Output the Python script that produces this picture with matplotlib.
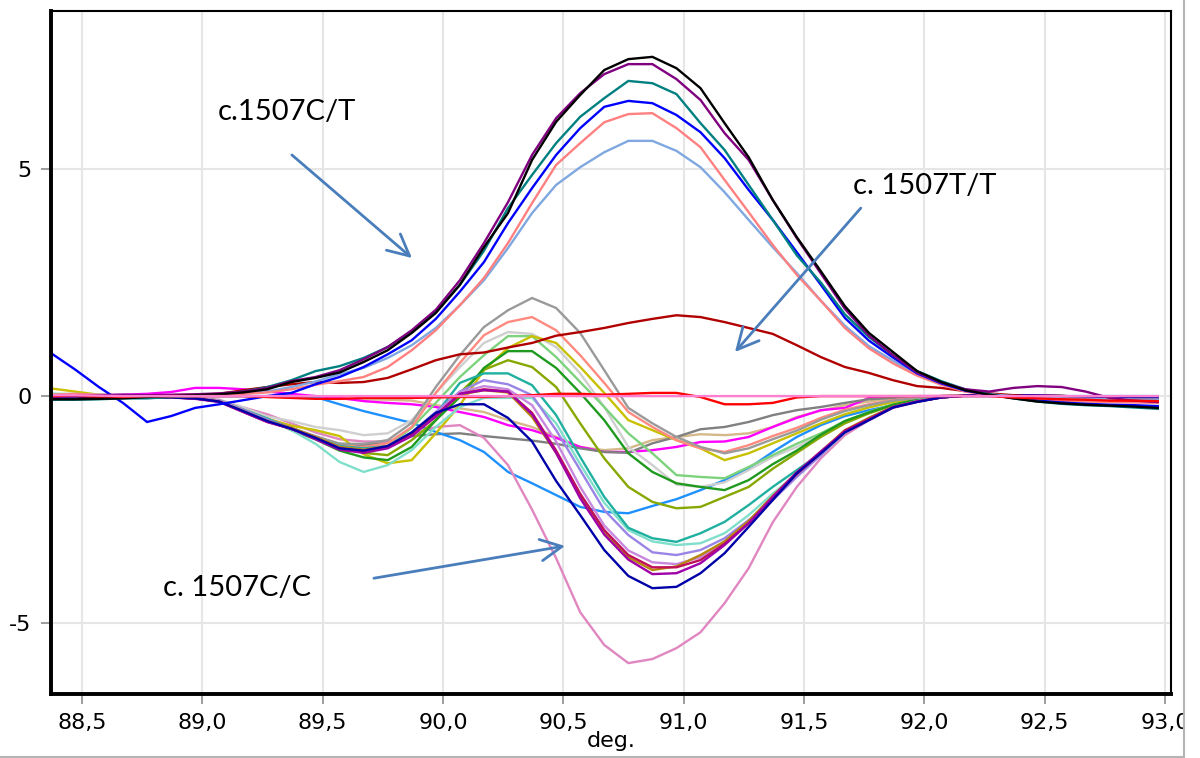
import numpy as np
import matplotlib
matplotlib.use("Agg")
import matplotlib.pyplot as plt
from matplotlib.lines import Line2D
from matplotlib.patches import Rectangle
from matplotlib.ticker import FixedLocator, FuncFormatter

# Temperature sampling (deg.), 0.1 deg steps
temps = np.round(88.37 + 0.1 * np.arange(47), 2)

# ---- c.1507C/T (heterozygous) difference curves ----
ct_black = [-0.07, -0.07, -0.06, -0.05, -0.02, 0.00, 0.02, 0.04, 0.08, 0.15,
            0.31, 0.40, 0.52, 0.75, 1.01, 1.39, 1.83, 2.45, 3.28, 4.03,
            5.20, 6.04, 6.63, 7.18, 7.42, 7.47, 7.22, 6.78, 6.01, 5.26,
            4.32, 3.50, 2.75, 1.98, 1.39, 0.97, 0.55, 0.31, 0.13, 0.03,
            -0.05, -0.12, -0.16, -0.19, -0.21, -0.23, -0.26]
ct_purple = [-0.02, 0.00, 0.02, 0.03, 0.02, 0.03, 0.04, 0.06, 0.10, 0.18,
             0.33, 0.42, 0.57, 0.81, 1.08, 1.45, 1.90, 2.55, 3.37, 4.27,
             5.31, 6.12, 6.67, 7.09, 7.31, 7.31, 6.98, 6.52, 5.79, 5.20,
             4.32, 3.48, 2.70, 1.92, 1.33, 0.90, 0.52, 0.30, 0.15, 0.10,
             0.18, 0.22, 0.20, 0.10, -0.04, -0.10, -0.13]
ct_teal = [-0.08, -0.08, -0.07, -0.05, -0.05, -0.02, 0.00, 0.04, 0.10, 0.20,
           0.35, 0.55, 0.66, 0.84, 1.08, 1.42, 1.85, 2.45, 3.20, 4.14,
           4.87, 5.57, 6.15, 6.56, 6.94, 6.89, 6.65, 6.01, 5.42, 4.65,
           3.88, 3.10, 2.50, 1.80, 1.30, 0.90, 0.55, 0.33, 0.15, 0.04,
           -0.05, -0.12, -0.17, -0.20, -0.22, -0.25, -0.28]
ct_blue = [0.95, 0.59, 0.20, -0.15, -0.57, -0.44, -0.26, -0.18, -0.09, 0.00,
           0.07, 0.26, 0.42, 0.64, 0.92, 1.23, 1.70, 2.30, 2.95, 3.81,
           4.58, 5.31, 5.90, 6.37, 6.50, 6.45, 6.19, 5.81, 5.24, 4.54,
           3.88, 3.17, 2.45, 1.72, 1.22, 0.85, 0.50, 0.28, 0.12, 0.03,
           -0.04, -0.10, -0.14, -0.17, -0.19, -0.20, -0.22]
ct_salmon = [0.03, 0.05, 0.03, 0.02, 0.00, -0.02, 0.00, 0.02, 0.05, 0.08,
             0.15, 0.25, 0.33, 0.42, 0.64, 1.01, 1.45, 2.00, 2.60, 3.37,
             4.25, 5.09, 5.57, 6.03, 6.21, 6.23, 5.90, 5.48, 4.76, 4.05,
             3.33, 2.67, 2.10, 1.50, 1.05, 0.72, 0.45, 0.25, 0.10, 0.02,
             -0.03, -0.07, -0.10, -0.12, -0.13, -0.14, -0.15]
ct_steel = [0.00, 0.00, 0.02, 0.00, -0.02, 0.00, 0.02, 0.03, 0.05, 0.10,
            0.20, 0.32, 0.48, 0.62, 0.84, 1.12, 1.50, 2.00, 2.55, 3.26,
            4.03, 4.65, 5.04, 5.37, 5.62, 5.62, 5.40, 5.04, 4.49, 3.88,
            3.28, 2.71, 2.10, 1.55, 1.10, 0.78, 0.47, 0.27, 0.12, 0.04,
            0.00, -0.03, -0.05, -0.06, -0.07, -0.08, -0.08]

# ---- c.1507T/T and reference curves ----
tt_darkred = [0.02, 0.00, -0.02, 0.00, 0.00, 0.02, 0.03, 0.05, 0.13, 0.20,
              0.26, 0.31, 0.29, 0.31, 0.40, 0.59, 0.79, 0.92, 0.96, 1.07,
              1.17, 1.33, 1.41, 1.50, 1.61, 1.70, 1.78, 1.74, 1.63, 1.50,
              1.37, 1.12, 0.86, 0.64, 0.51, 0.35, 0.22, 0.18, 0.11, 0.06,
              0.02, -0.02, -0.05, -0.07, -0.09, -0.10, -0.11]
tt_red = [0.00, 0.02, 0.00, -0.02, 0.00, 0.00, 0.00, 0.00, 0.00, -0.02,
          -0.04, -0.06, -0.06, -0.04, -0.04, -0.04, -0.03, -0.02, -0.02, 0.00,
          0.02, 0.05, 0.05, 0.03, 0.05, 0.07, 0.07, -0.02, -0.18, -0.18,
          -0.15, -0.03, 0.00, 0.00, 0.00, 0.00, 0.00, 0.00, 0.00, 0.00,
          -0.03, -0.05, -0.07, -0.08, -0.10, -0.10, -0.11]
ref_pink = [0.02, 0.02, 0.01, 0.00, 0.00, 0.00, 0.00, 0.00, 0.00, 0.00,
            0.00, 0.00, 0.00, 0.00, 0.00, 0.00, 0.00, 0.00, 0.00, 0.00,
            0.00, 0.00, 0.00, 0.00, 0.00, 0.00, 0.00, 0.00, 0.00, 0.00,
            0.00, 0.00, 0.00, 0.00, 0.00, 0.00, 0.00, 0.00, 0.00, 0.00,
            0.00, 0.00, 0.00, 0.00, 0.00, 0.00, 0.00]

# ---- c.1507C/C difference curves ----
cc_gray = [0.05, 0.03, 0.00, 0.00, -0.02, -0.03, -0.05, -0.10, -0.30, -0.50,
           -0.70, -0.88, -1.05, -1.05, -0.97, -0.59, 0.20, 0.90, 1.52, 1.89,
           2.16, 1.94, 1.39, 0.57, -0.26, -0.60, -0.90, -1.12, -1.26, -1.15,
           -0.95, -0.76, -0.52, -0.33, -0.20, -0.10, -0.04, 0.00, 0.01, 0.02,
           0.02, 0.01, 0.00, -0.01, -0.02, -0.03, -0.03]
cc_salmon = [0.03, 0.02, 0.02, 0.00, 0.00, -0.02, -0.04, -0.10, -0.30, -0.50,
             -0.70, -0.90, -1.10, -1.12, -1.04, -0.68, 0.07, 0.73, 1.34, 1.63,
             1.74, 1.45, 0.90, 0.29, -0.35, -0.68, -0.97, -1.15, -1.23, -1.08,
             -0.88, -0.70, -0.48, -0.30, -0.18, -0.09, -0.03, 0.00, 0.01, 0.02,
             0.02, 0.01, 0.00, -0.01, -0.02, -0.02, -0.03]
cc_silver = [0.04, 0.03, 0.02, 0.00, 0.00, -0.02, -0.04, -0.09, -0.25, -0.45,
             -0.55, -0.68, -0.75, -0.86, -0.82, -0.53, 0.07, 0.64, 1.17, 1.41,
             1.37, 1.08, 0.50, -0.24, -1.12, -1.52, -1.95, -2.00, -1.90, -1.63,
             -1.34, -1.12, -0.86, -0.58, -0.36, -0.19, -0.08, -0.02, 0.01, 0.02,
             0.02, 0.01, 0.00, -0.01, -0.02, -0.02, -0.03]
cc_lightgreen = [0.00, 0.00, 0.02, 0.02, 0.00, -0.02, -0.04, -0.10, -0.30, -0.50,
                 -0.70, -0.90, -1.10, -1.20, -1.10, -0.70, -0.15, 0.42, 0.90, 1.32,
                 1.32, 0.86, 0.31, -0.24, -0.82, -1.26, -1.74, -1.78, -1.81, -1.56,
                 -1.30, -1.05, -0.82, -0.55, -0.35, -0.18, -0.08, -0.02, 0.01, 0.02,
                 0.02, 0.01, 0.00, -0.01, -0.01, -0.02, -0.02]
cc_green = [0.02, 0.00, 0.00, 0.00, -0.02, -0.02, -0.04, -0.10, -0.30, -0.50,
            -0.75, -0.95, -1.20, -1.35, -1.41, -1.12, -0.53, -0.02, 0.62, 0.99,
            0.99, 0.62, 0.07, -0.53, -1.26, -1.67, -1.92, -2.00, -2.07, -1.85,
            -1.50, -1.20, -0.85, -0.55, -0.36, -0.19, -0.08, -0.02, 0.01, 0.02,
            0.02, 0.01, 0.00, -0.01, -0.01, -0.02, -0.02]
cc_olive = [0.00, 0.00, 0.00, 0.00, -0.02, -0.02, -0.04, -0.10, -0.30, -0.50,
            -0.72, -0.92, -1.12, -1.25, -1.30, -0.97, -0.53, 0.07, 0.58, 0.79,
            0.64, 0.20, -0.60, -1.37, -2.00, -2.33, -2.47, -2.44, -2.22, -2.00,
            -1.60, -1.25, -0.90, -0.60, -0.38, -0.20, -0.09, -0.02, 0.01, 0.02,
            0.02, 0.01, 0.00, -0.01, -0.01, -0.02, -0.02]
cc_seagreen = [-0.02, -0.02, 0.00, 0.00, -0.02, -0.02, -0.05, -0.10, -0.30, -0.50,
               -0.72, -0.92, -1.10, -1.15, -1.10, -0.85, -0.40, 0.29, 0.50, 0.50,
               0.24, -0.42, -1.34, -2.22, -2.90, -3.13, -3.21, -3.02, -2.77, -2.40,
               -2.00, -1.63, -1.26, -0.78, -0.48, -0.24, -0.11, -0.03, 0.01, 0.02,
               0.02, 0.01, 0.00, -0.01, -0.01, -0.02, -0.02]
cc_aqua = [0.05, 0.05, 0.03, 0.02, 0.00, -0.02, -0.05, -0.10, -0.30, -0.50,
           -0.75, -1.05, -1.45, -1.67, -1.52, -1.19, -0.68, -0.24, -0.04, -0.04,
           -0.04, -0.60, -1.50, -2.35, -2.95, -3.20, -3.28, -3.24, -3.02, -2.62,
           -2.15, -1.72, -1.30, -0.80, -0.50, -0.25, -0.11, -0.03, 0.01, 0.02,
           0.02, 0.01, 0.00, -0.01, -0.01, -0.02, -0.02]
cc_yellow = [0.17, 0.10, 0.03, 0.00, -0.02, -0.02, -0.04, -0.10, -0.30, -0.50,
             -0.65, -0.75, -0.88, -1.28, -1.48, -1.41, -0.82, -0.20, 0.57, 1.06,
             1.32, 1.17, 0.64, 0.07, -0.53, -0.75, -0.97, -1.15, -1.41, -1.26,
             -1.04, -0.82, -0.60, -0.40, -0.25, -0.13, -0.05, -0.01, 0.01, 0.02,
             0.02, 0.01, 0.00, -0.01, -0.01, -0.02, -0.02]
cc_medpurple = [0.00, 0.00, 0.00, 0.02, 0.00, -0.02, -0.04, -0.10, -0.30, -0.52,
                -0.72, -0.92, -1.12, -1.18, -1.10, -0.80, -0.35, 0.10, 0.35, 0.26,
                0.02, -0.75, -1.63, -2.51, -3.06, -3.44, -3.50, -3.39, -3.13, -2.73,
                -2.29, -1.78, -1.30, -0.78, -0.50, -0.24, -0.12, -0.03, 0.01, 0.02,
                0.02, 0.01, 0.00, -0.01, -0.01, -0.02, -0.02]
cc_violet = [0.00, 0.00, 0.00, 0.00, 0.00, -0.02, -0.04, -0.10, -0.32, -0.55,
             -0.72, -0.92, -1.15, -1.20, -1.12, -0.82, -0.40, 0.08, 0.22, 0.15,
             -0.20, -1.00, -2.00, -2.85, -3.40, -3.66, -3.70, -3.55, -3.20, -2.78,
             -2.20, -1.70, -1.25, -0.76, -0.49, -0.24, -0.12, -0.03, 0.01, 0.02,
             0.02, 0.01, 0.00, -0.01, -0.01, -0.02, -0.02]
cc_crimson = [0.02, 0.00, 0.00, 0.00, -0.02, -0.03, -0.05, -0.12, -0.35, -0.57,
              -0.72, -0.92, -1.15, -1.22, -1.12, -0.85, -0.42, 0.05, 0.15, 0.10,
              -0.37, -1.20, -2.15, -2.95, -3.50, -3.77, -3.77, -3.61, -3.25, -2.80,
              -2.25, -1.72, -1.25, -0.76, -0.50, -0.24, -0.12, -0.03, 0.01, 0.02,
              0.02, 0.01, 0.00, -0.01, -0.01, -0.02, -0.02]
cc_gold = [0.00, 0.02, 0.02, 0.00, 0.00, -0.02, -0.05, -0.12, -0.33, -0.55,
           -0.70, -0.90, -1.12, -1.18, -1.10, -0.85, -0.45, 0.03, 0.13, 0.08,
           -0.46, -1.25, -2.20, -3.00, -3.55, -3.83, -3.75, -3.50, -3.20, -2.75,
           -2.20, -1.68, -1.22, -0.75, -0.48, -0.24, -0.12, -0.03, 0.01, 0.02,
           0.02, 0.01, 0.00, -0.01, -0.01, -0.02, -0.02]
cc_darkmagenta = [-0.03, -0.03, -0.02, 0.00, -0.02, -0.03, -0.06, -0.13, -0.35, -0.57,
                  -0.72, -0.95, -1.18, -1.25, -1.15, -0.88, -0.45, 0.05, 0.13, 0.10,
                  -0.40, -1.25, -2.25, -3.05, -3.60, -3.92, -3.90, -3.68, -3.28, -2.80,
                  -2.22, -1.68, -1.22, -0.78, -0.52, -0.25, -0.12, -0.03, 0.01, 0.02,
                  0.02, 0.01, 0.00, -0.01, -0.01, -0.02, -0.02]
cc_navy = [-0.05, -0.05, -0.03, -0.02, -0.02, -0.03, -0.05, -0.12, -0.33, -0.55,
           -0.72, -0.92, -1.15, -1.20, -1.10, -0.80, -0.37, -0.18, -0.18, -0.48,
           -1.00, -1.87, -2.62, -3.39, -3.96, -4.23, -4.20, -3.90, -3.46, -2.88,
           -2.29, -1.70, -1.26, -0.80, -0.53, -0.25, -0.13, -0.03, 0.01, 0.02,
           0.02, 0.01, 0.00, -0.01, -0.01, -0.02, -0.02]
cc_pink = [0.00, 0.00, 0.02, 0.00, 0.00, -0.02, -0.04, -0.08, -0.25, -0.40,
           -0.60, -0.80, -0.95, -1.00, -1.00, -0.85, -0.68, -0.64, -0.92, -1.52,
           -2.50, -3.57, -4.76, -5.48, -5.88, -5.79, -5.55, -5.20, -4.56, -3.79,
           -2.78, -2.00, -1.37, -0.86, -0.53, -0.26, -0.13, -0.02, 0.01, 0.02,
           0.02, 0.01, 0.00, -0.01, -0.01, -0.02, -0.02]
cc_dodger = [0.00, 0.00, 0.00, 0.00, 0.00, 0.00, 0.00, 0.00, 0.00, 0.00,
             0.00, -0.02, -0.18, -0.33, -0.46, -0.59, -0.79, -0.97, -1.23, -1.67,
             -1.92, -2.18, -2.44, -2.55, -2.58, -2.42, -2.27, -2.07, -1.85, -1.59,
             -1.23, -0.90, -0.64, -0.44, -0.31, -0.20, -0.09, -0.02, 0.00, 0.00,
             0.00, 0.00, 0.00, 0.00, 0.00, 0.00, 0.00]
cc_darkgray = [-0.03, -0.03, -0.02, 0.00, -0.02, -0.03, -0.05, -0.12, -0.32, -0.52,
               -0.70, -0.90, -1.05, -1.08, -1.00, -0.88, -0.84, -0.82, -0.88, -0.93,
               -0.98, -1.05, -1.15, -1.23, -1.25, -1.04, -0.90, -0.73, -0.68, -0.57,
               -0.42, -0.31, -0.24, -0.15, -0.07, -0.04, -0.01, 0.00, 0.01, 0.02,
               0.02, 0.01, 0.00, -0.01, -0.01, -0.02, -0.02]
cc_magenta = [-0.02, 0.00, 0.02, 0.03, 0.05, 0.09, 0.18, 0.18, 0.15, 0.10,
              0.05, 0.00, -0.04, -0.11, -0.15, -0.18, -0.24, -0.35, -0.46, -0.64,
              -0.75, -0.92, -1.12, -1.23, -1.23, -1.19, -1.12, -1.01, -1.00, -0.90,
              -0.68, -0.48, -0.31, -0.26, -0.04, -0.02, 0.00, 0.00, 0.01, 0.02,
              0.02, 0.01, 0.00, -0.01, -0.01, -0.02, -0.02]
cc_tan = [0.00, 0.00, 0.00, 0.00, 0.00, 0.00, 0.00, 0.00, 0.00, -0.02,
          -0.03, -0.05, -0.06, -0.07, -0.08, -0.10, -0.20, -0.27, -0.35, -0.53,
          -0.68, -0.90, -1.12, -1.19, -1.15, -0.97, -0.90, -0.84, -0.86, -0.82,
          -0.68, -0.46, -0.32, -0.20, -0.12, -0.06, -0.02, 0.00, 0.01, 0.02,
          0.02, 0.01, 0.00, -0.01, -0.01, -0.02, -0.02]

xticks = [88.5, 89.0, 89.5, 90.0, 90.5, 91.0, 91.5, 92.0, 92.5, 93.0]
yticks = [-5, 0, 5]

# drawing order: C/C group first, then T/T, then C/T, then flat references on top
series = [
    (cc_tan, "#d6b98a"), (cc_magenta, "#ff00ff"), (cc_darkgray, "#808080"),
    (cc_dodger, "#1e90ff"), (cc_pink, "#e086c0"), (cc_silver, "#cfcfcf"),
    (cc_lightgreen, "#7dd37d"), (cc_yellow, "#c8c000"), (cc_olive, "#86a800"),
    (cc_green, "#1f9a1f"), (cc_salmon, "#ff8a80"), (cc_gray, "#9a9a9a"),
    (cc_aqua, "#80dfca"), (cc_seagreen, "#1fb0a0"), (cc_medpurple, "#9a85e6"),
    (cc_violet, "#c888e0"), (cc_gold, "#b8860b"), (cc_crimson, "#c0105a"),
    (cc_darkmagenta, "#a000a8"), (cc_navy, "#0000a8"),
    (tt_darkred, "#b00000"),
    (ct_steel, "#7fa8e0"), (ct_salmon, "#ff8080"), (ct_blue, "#0000ff"),
    (ct_teal, "#008080"), (ct_purple, "#800080"), (ct_black, "#000000"),
    (tt_red, "#ff0000"), (ref_pink, "#ff80d0"),
]

fig = plt.figure(figsize=(12, 7.58), dpi=100)
ax = fig.add_axes([51 / 1200, 1 - 694 / 758, (1171 - 51) / 1200, (694 - 11) / 758])

for vals, col in series:
    ax.plot(temps, vals, color=col, lw=1.7, solid_joinstyle="miter")

ax.set_xlim(88.371, 93.025)
ax.set_ylim(-6.56, 8.48)
ax.xaxis.set_major_locator(FixedLocator(xticks))
ax.yaxis.set_major_locator(FixedLocator(yticks))
ax.xaxis.set_major_formatter(FuncFormatter(lambda v, p: f"{v:.1f}".replace(".", ",")))
ax.yaxis.set_major_formatter(FuncFormatter(lambda v, p: f"{v:g}"))
ax.grid(True, color="#e6e6e6", lw=1.5)
ax.set_axisbelow(True)
ax.tick_params(axis="both", direction="out", length=7, width=1.2, color="#8c8c8c",
               labelsize=16, pad=7)
for lab in ax.get_xticklabels() + ax.get_yticklabels():
    lab.set_family("DejaVu Sans")
ax.set_xlabel("deg.", fontsize=16, family="DejaVu Sans", labelpad=-2)

for side in ("left", "bottom"):
    ax.spines[side].set_linewidth(2.8)
for side in ("top", "right"):
    ax.spines[side].set_linewidth(1.5)

arrow_color = "#4a7ebb"
arrow_props = dict(arrowstyle="->,head_length=0.7,head_width=0.35", color=arrow_color,
                   lw=2.0, mutation_scale=22, shrinkA=0, shrinkB=0)
ax.annotate("", xy=(89.871, 3.04), xytext=(89.372, 5.31), arrowprops=arrow_props)
ax.annotate("", xy=(91.213, 0.97), xytext=(91.736, 4.14), arrowprops=arrow_props)
ax.annotate("", xy=(90.507, -3.30), xytext=(89.713, -4.01), arrowprops=arrow_props)

label_font = dict(fontsize=21, family="Lato", ha="center", va="center", color="black")
ax.text(89.352, 6.26, "c.1507C/T", **label_font)
ax.text(92.002, 4.63, "c. 1507T/T", **label_font)
ax.text(89.144, -4.23, "c. 1507C/C", **label_font)

# window frame around the plot area
fig.add_artist(Rectangle((1184 / 1200, 0), 16 / 1200, 1, transform=fig.transFigure,
                         facecolor="white", edgecolor="none", zorder=10))
fig.add_artist(Line2D([1184 / 1200, 1184 / 1200], [0, 1], transform=fig.transFigure,
                      color="#b4b4b4", lw=1.5, zorder=11))
fig.add_artist(Line2D([0, 1184 / 1200], [1.5 / 758, 1.5 / 758], transform=fig.transFigure,
                      color="#b4b4b4", lw=1.5, zorder=11))

fig.savefig("out.png", dpi=100)
